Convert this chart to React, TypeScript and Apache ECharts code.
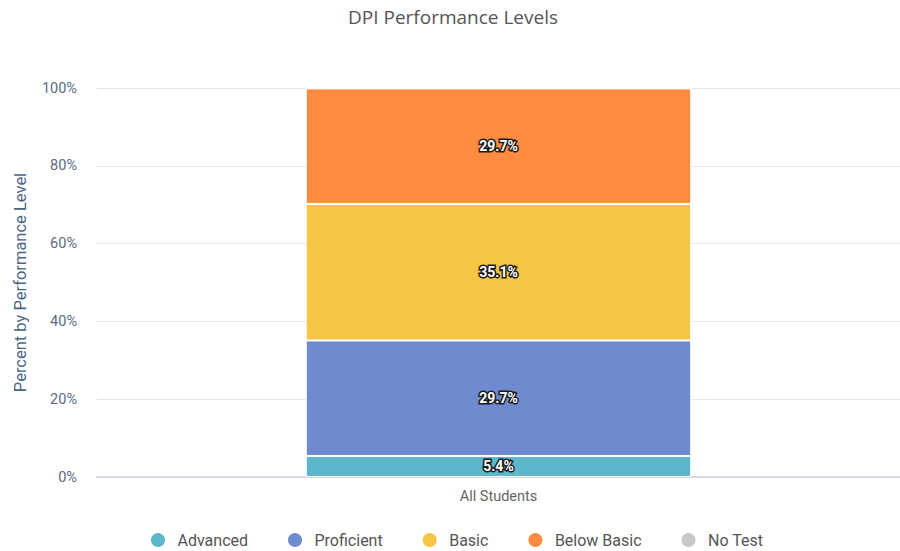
import React, { useEffect, useRef } from "react";
import * as echarts from "echarts";

const categories = ["All Students"];
const seriesNames = ["Advanced", "Proficient", "Basic", "Below Basic", "No Test"];
const advanced = [5.4];
const proficient = [29.7];
const basic = [35.1];
const belowBasic = [29.7];
const noTest = [0];
const colors = ["#5bb7c9", "#6f8bd0", "#f6c544", "#fd8b40", "#c8c8c8"];
const yTicks = [0, 20, 40, 60, 80, 100];

export default function App() {
  const ref = useRef<HTMLDivElement>(null);
  useEffect(() => {
    if (!ref.current) return;
    const chart = echarts.init(ref.current, undefined, { renderer: "svg" });
    const values = [advanced, proficient, basic, belowBasic, noTest];
    const labelStyle = {
      show: true,
      position: "inside",
      formatter: (p: any) => (p.value > 0 ? p.value.toFixed(1) + "%" : ""),
      color: "#ffffff",
      fontSize: 14,
      fontWeight: "bold",
      fontFamily: "Roboto, Arial, sans-serif",
      textBorderColor: "#1a1a1a",
      textBorderWidth: 3,
    };
    chart.setOption({
      animation: false,
      title: {
        text: "DPI Performance Levels",
        left: 448,
        textAlign: "center",
        top: 2,
        textStyle: { color: "#555555", fontSize: 19, fontWeight: "normal", fontFamily: "Open Sans, sans-serif" },
      },
      legend: {
        top: 526,
        left: 144,
        icon: "circle",
        itemWidth: 29,
        itemHeight: 16,
        itemGap: 38,
        data: seriesNames,
        textStyle: { color: "#555555", fontSize: 16, fontFamily: "Roboto, sans-serif" },
      },
      grid: { left: 97, right: 0, top: 88, bottom: 74 },
      xAxis: {
        type: "category",
        data: categories,
        axisLine: { lineStyle: { color: "#d5d9e6", width: 2 } },
        axisTick: { show: false },
        axisLabel: { color: "#666666", fontSize: 14.5, fontFamily: "Roboto, sans-serif", margin: 12 },
      },
      yAxis: {
        type: "value",
        min: 0,
        max: 100,
        interval: 20,
        name: "Percent by Performance Level",
        nameLocation: "middle",
        nameGap: 68,
        nameTextStyle: { color: "#4a6587", fontSize: 16.5, fontFamily: "Roboto, sans-serif" },
        axisLabel: {
          color: "#5a6b82",
          fontSize: 14.5,
          fontFamily: "Roboto, sans-serif",
          margin: 20,
          formatter: (v: number) => (yTicks.includes(v) ? v + "%" : ""),
        },
        splitLine: { lineStyle: { color: "#e6e6e6" } },
        axisLine: { show: false },
        axisTick: { show: false },
      },
      series: seriesNames.map((name, i) => ({
        name,
        type: "bar",
        stack: "total",
        barWidth: "48%",
        data: values[i],
        itemStyle: { color: colors[i], borderColor: "#ffffff", borderWidth: 1 },
        label: labelStyle,
      })),
    });
    return () => chart.dispose();
  }, []);
  return <div ref={ref} style={{ position: "absolute", left: 0, top: 0, width: 900, height: 551 }} />;
}
